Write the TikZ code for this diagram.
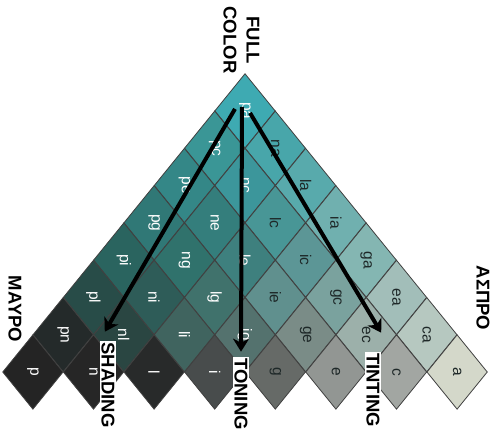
\documentclass[tikz,border=0pt]{standalone}
\usepackage{fontspec}
\setmainfont{Liberation Sans}
\usepackage{tikz}
\usetikzlibrary{shapes.geometric}
\usetikzlibrary{arrows.meta}
\usetikzlibrary{calc}
% cell colours, full colour -> black -> white
\definecolor{cpa}{RGB}{62,170,178}
\definecolor{cpc}{RGB}{58,150,150}
\definecolor{cna}{RGB}{72,166,170}
\definecolor{cpe}{RGB}{52,135,135}
\definecolor{cnc}{RGB}{60,150,155}
\definecolor{cla}{RGB}{88,170,172}
\definecolor{cpg}{RGB}{48,120,118}
\definecolor{cne}{RGB}{52,126,124}
\definecolor{clc}{RGB}{72,150,150}
\definecolor{cia}{RGB}{112,176,175}
\definecolor{cpi}{RGB}{42,100,95}
\definecolor{cng}{RGB}{48,114,108}
\definecolor{cle}{RGB}{62,128,126}
\definecolor{cic}{RGB}{92,150,150}
\definecolor{cga}{RGB}{132,182,178}
\definecolor{cpl}{RGB}{40,76,72}
\definecolor{cni}{RGB}{46,92,88}
\definecolor{clg}{RGB}{64,114,108}
\definecolor{cie}{RGB}{96,144,142}
\definecolor{cgc}{RGB}{122,162,158}
\definecolor{cea}{RGB}{162,190,185}
\definecolor{cpn}{RGB}{36,42,42}
\definecolor{cnl}{RGB}{42,70,66}
\definecolor{cli}{RGB}{64,100,95}
\definecolor{cig}{RGB}{84,114,110}
\definecolor{cge}{RGB}{122,140,135}
\definecolor{cec}{RGB}{156,176,170}
\definecolor{cca}{RGB}{182,200,192}
\definecolor{cp}{RGB}{36,36,36}
\definecolor{cn}{RGB}{38,38,38}
\definecolor{cl}{RGB}{40,42,42}
\definecolor{ci}{RGB}{72,76,76}
\definecolor{cg}{RGB}{102,106,103}
\definecolor{ce}{RGB}{146,150,147}
\definecolor{cc}{RGB}{162,166,162}
\definecolor{ca}{RGB}{212,216,202}
\definecolor{inkdark}{RGB}{30,40,40}
\tikzset{
    cell/.style={diamond, rotate=-90, minimum width=74.6pt, minimum height=60.6pt,
        inner sep=0pt, draw=black!75, line width=0.8pt, font=\fontsize{15.5}{16}\selectfont},
    darkcell/.style={cell, text=white},
    lightcell/.style={cell, text=inkdark},
    tonearrow/.style={draw=black, line width=4pt,
        -{Stealth[length=13pt, width=16pt, inset=4pt]}},
    sidelabel/.style={rotate=-90, font=\fontsize{18.5}{23}\selectfont\bfseries, inner sep=0pt},
    boxlabel/.style={sidelabel, fill=white, inner sep=1.5pt},
}
\begin{document}
\begin{tikzpicture}[x=1pt, y=-1pt]
	\useasboundingbox (0,0) rectangle (493,434);
%
	\node[darkcell, fill=cpa] (pa) at (245,110.9) {pa};
%
	\node[darkcell, fill=cpc] (pc) at (214.7,148.2) {pc};
	\node[lightcell, fill=cna] (na) at (275.3,148.2) {na};
%
	\node[darkcell, fill=cpe] (pe) at (184.4,185.5) {pe};
	\node[darkcell, fill=cnc] (nc) at (245,185.5) {nc};
	\node[lightcell, fill=cla] (la) at (305.6,185.5) {la};
%
	\node[darkcell, fill=cpg] (pg) at (154.1,222.8) {pg};
	\node[darkcell, fill=cne] (ne) at (214.7,222.8) {ne};
	\node[lightcell, fill=clc] (lc) at (275.3,222.8) {lc};
	\node[lightcell, fill=cia] (ia) at (335.9,222.8) {ia};
%
	\node[darkcell, fill=cpi] (pi) at (123.8,260.1) {pi};
	\node[darkcell, fill=cng] (ng) at (184.4,260.1) {ng};
	\node[darkcell, fill=cle] (le) at (245,260.1) {le};
	\node[lightcell, fill=cic] (ic) at (305.6,260.1) {ic};
	\node[lightcell, fill=cga] (ga) at (366.2,260.1) {ga};
%
	\node[darkcell, fill=cpl] (pl) at (93.5,297.4) {pl};
	\node[darkcell, fill=cni] (ni) at (154.1,297.4) {ni};
	\node[darkcell, fill=clg] (lg) at (214.7,297.4) {lg};
	\node[lightcell, fill=cie] (ie) at (275.3,297.4) {ie};
	\node[lightcell, fill=cgc] (gc) at (335.9,297.4) {gc};
	\node[lightcell, fill=cea] (ea) at (396.5,297.4) {ea};
%
	\node[darkcell, fill=cpn] (pn) at (63.2,334.7) {pn};
	\node[darkcell, fill=cnl] (nl) at (123.8,334.7) {nl};
	\node[darkcell, fill=cli] (li) at (184.4,334.7) {li};
	\node[darkcell, fill=cig] (ig) at (245,334.7) {ig};
	\node[lightcell, fill=cge] (ge) at (305.6,334.7) {ge};
	\node[lightcell, fill=cec] (ec) at (366.2,334.7) {ec};
	\node[lightcell, fill=cca] (ca) at (426.8,334.7) {ca};
%
	\node[darkcell, fill=cp] (p) at (32.9,372) {p};
	\node[darkcell, fill=cn] (n) at (93.5,372) {n};
	\node[darkcell, fill=cl] (l) at (154.1,372) {l};
	\node[darkcell, fill=ci] (i) at (214.7,372) {i};
	\node[lightcell, fill=cg] (g) at (275.3,372) {g};
	\node[lightcell, fill=ce] (e) at (335.9,372) {e};
	\node[lightcell, fill=cc] (c) at (396.5,372) {c};
	\node[lightcell, fill=ca] (a) at (457.1,372) {a};
%
	\draw[tonearrow] ($(pa)+(-10,-2)$) -- ($(nl)+(-19,-3)$);
	\draw[tonearrow] ($(pa)+(-3,-4)$) -- ($(ig)+(-4,17)$);
	\draw[tonearrow] ($(pa)+(5,2)$) -- ($(ec)+(15,-2)$);
%
	\node[sidelabel, align=center] (full) at (241.5,40) {FULL\\COLOR};
	\node[sidelabel] (black) at (15,309) {ΜΑΥΡΟ};
	\node[sidelabel] (white) at (483,298) {ΑΣΠΡΟ};
	\node[boxlabel] (shading) at (108,385) {SHADING};
	\node[boxlabel] (toning) at (241,394) {TONING};
	\node[boxlabel] (tinting) at (373,390) {TINTING};
 \end{tikzpicture}
\end{document}
